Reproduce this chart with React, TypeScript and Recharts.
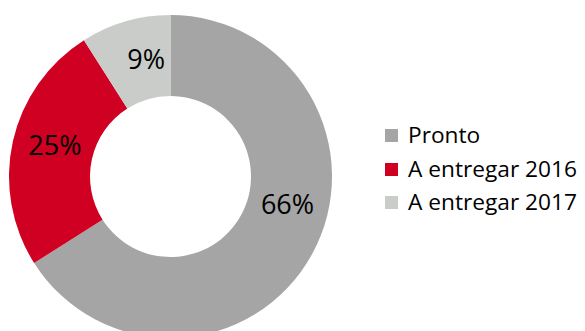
import { PieChart, Pie, Cell, Legend } from "recharts";

const categories = ["Pronto", "A entregar 2016", "A entregar 2017"];
const shares = [66, 25, 9];
const colors = ["#A5A5A5", "#CF0022", "#C9CCC9"];

// Excel nudges its doughnut labels off the slice middle a bit
const labelNudge = [16, -3, -4.5];

const data = categories.map((name, i) => ({ name, value: shares[i] }));

const RAD = Math.PI / 180;
const FONT = "'Open Sans', sans-serif";

const renderLabel = (props: any) => {
  const { cx, cy, midAngle, innerRadius, outerRadius, index, value } = props;
  const r = (innerRadius + outerRadius) / 2 - 1;
  const a = (midAngle + labelNudge[index]) * RAD;
  const x = cx + r * Math.cos(-a);
  const y = cy + r * Math.sin(-a);
  return (
    <text
      x={x}
      y={y}
      fill="#000"
      fontSize={27}
      fontFamily={FONT}
      textAnchor="middle"
      dominantBaseline="central"
    >
      {`${value}%`}
    </text>
  );
};

const renderLegend = () => (
  <div style={{ fontFamily: FONT, fontSize: 22.7, color: "#000" }}>
    {categories.map((c, i) => (
      <div key={c} style={{ display: "flex", alignItems: "center", height: 33.5 }}>
        <span
          style={{
            display: "inline-block",
            width: 13,
            height: 13,
            background: colors[i],
            marginRight: 10,
          }}
        />
        <span style={{ lineHeight: 1 }}>{c}</span>
      </div>
    ))}
  </div>
);

export default function App() {
  return (
    <div style={{ position: "absolute", left: 0, top: 0, background: "#fff" }}>
      <PieChart width={585} height={331} margin={{ top: 0, right: 0, bottom: 0, left: 0 }}>
        <Pie
          data={data}
          dataKey="value"
          nameKey="name"
          cx={170.5}
          cy={176.5}
          innerRadius={80.5}
          outerRadius={161.5}
          startAngle={90}
          endAngle={-270}
          stroke="none"
          label={renderLabel}
          labelLine={false}
          isAnimationActive={false}
        >
          {data.map((d, i) => (
            <Cell key={d.name} fill={colors[i]} />
          ))}
        </Pie>
        <Legend
          content={renderLegend}
          wrapperStyle={{ left: 385, top: 119, width: 200, bottom: "auto" }}
        />
      </PieChart>
    </div>
  );
}
